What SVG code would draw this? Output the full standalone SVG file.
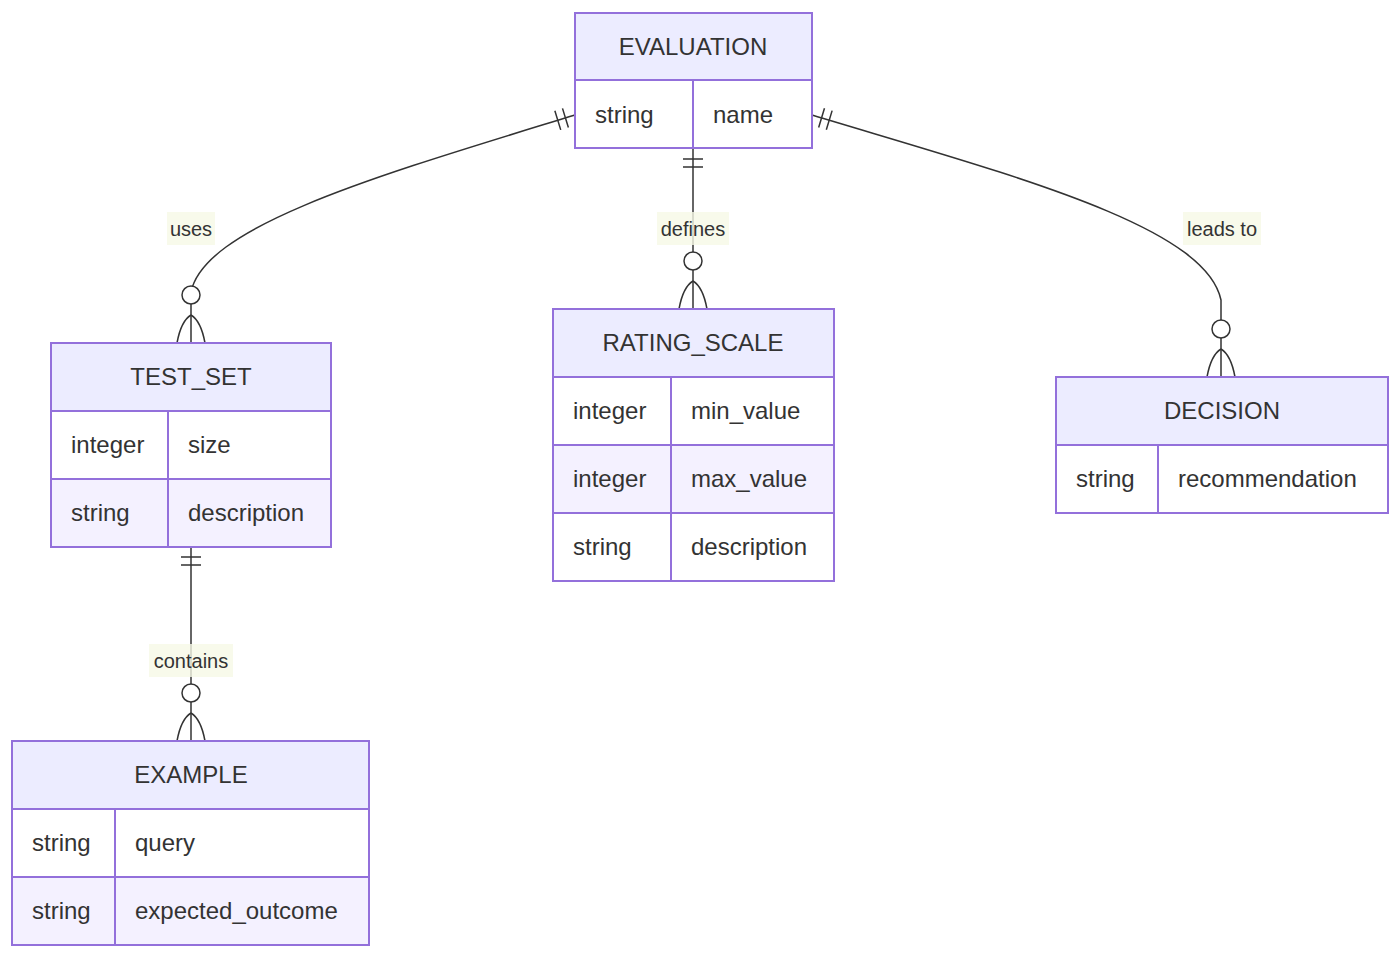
<svg xmlns="http://www.w3.org/2000/svg" width="1400" height="958" viewBox="0 0 1400 958">
<style>
text{font-family:"Liberation Sans",Arial,sans-serif;fill:#333}
.h{fill:#ECECFF;stroke:#9370DB;stroke-width:2}
.w{fill:#FFFFFF;stroke:#9370DB;stroke-width:2}
.l{fill:#F4F1FF;stroke:#9370DB;stroke-width:2}
.dv{stroke:#9370DB;stroke-width:2}
.t{font-size:24px;text-anchor:middle}
.a{font-size:24px}
.c{fill:none;stroke:#333;stroke-width:1.5}
.lb{fill:#F6F9E6;opacity:0.8}
.lt{font-size:20px;text-anchor:middle}
</style>
<defs>
<marker id="one" markerUnits="userSpaceOnUse" orient="auto" refX="0" refY="0" markerWidth="30" markerHeight="30" overflow="visible">
<path d="M10,-10 L10,10 M18,-10 L18,10" fill="none" stroke="#333" stroke-width="1.5"/>
</marker>
<marker id="many" markerUnits="userSpaceOnUse" orient="auto" refX="0" refY="0" markerWidth="60" markerHeight="30" overflow="visible">
<circle cx="-48" cy="0" r="9" fill="#fff" stroke="#333" stroke-width="1.5"/>
<path d="M0,-14 Q-22,-10 -28,0 M0,14 Q-22,10 -28,0" fill="none" stroke="#333" stroke-width="1.5"/>
</marker>
</defs>
<g id="connectors">
<path class="c" d="M575,115 C380,175 205,225 191,292 L191,343" marker-start="url(#one)" marker-end="url(#many)"/>
<path class="c" d="M693,149 L693,309" marker-start="url(#one)" marker-end="url(#many)"/>
<path class="c" d="M812,115 C1010,175 1205,225 1221,300 L1221,377" marker-start="url(#one)" marker-end="url(#many)"/>
<path class="c" d="M191,547 L191,741" marker-start="url(#one)" marker-end="url(#many)"/>
<rect class="lb" x="167" y="212" width="48" height="33"/><text class="lt" x="191" y="236">uses</text>
<rect class="lb" x="657" y="212" width="72" height="33"/><text class="lt" x="693" y="236">defines</text>
<rect class="lb" x="1183" y="212" width="78" height="33"/><text class="lt" x="1222" y="236">leads to</text>
<rect class="lb" x="149" y="644" width="84" height="33"/><text class="lt" x="191" y="668">contains</text>
</g>
<g id="EVALUATION">
<rect class="h" x="575" y="13" width="237" height="67"/>
<rect class="w" x="575" y="80" width="237" height="68"/>
<line class="dv" x1="693" y1="80" x2="693" y2="148"/>
<text class="t" x="693" y="55">EVALUATION</text>
<text class="a" x="595" y="123">string</text><text class="a" x="713" y="123">name</text>
</g>
<g id="TEST_SET">
<rect class="h" x="51" y="343" width="280" height="68"/>
<rect class="w" x="51" y="411" width="280" height="68"/>
<rect class="l" x="51" y="479" width="280" height="68"/>
<line class="dv" x1="168" y1="411" x2="168" y2="547"/>
<text class="t" x="191" y="385">TEST_SET</text>
<text class="a" x="71" y="453">integer</text><text class="a" x="188" y="453">size</text>
<text class="a" x="71" y="521">string</text><text class="a" x="188" y="521">description</text>
</g>
<g id="RATING_SCALE">
<rect class="h" x="553" y="309" width="281" height="68"/>
<rect class="w" x="553" y="377" width="281" height="68"/>
<rect class="l" x="553" y="445" width="281" height="68"/>
<rect class="w" x="553" y="513" width="281" height="68"/>
<line class="dv" x1="671" y1="377" x2="671" y2="581"/>
<text class="t" x="693" y="351">RATING_SCALE</text>
<text class="a" x="573" y="419">integer</text><text class="a" x="691" y="419">min_value</text>
<text class="a" x="573" y="487">integer</text><text class="a" x="691" y="487">max_value</text>
<text class="a" x="573" y="555">string</text><text class="a" x="691" y="555">description</text>
</g>
<g id="DECISION">
<rect class="h" x="1056" y="377" width="332" height="68"/>
<rect class="w" x="1056" y="445" width="332" height="68"/>
<line class="dv" x1="1158" y1="445" x2="1158" y2="513"/>
<text class="t" x="1222" y="419">DECISION</text>
<text class="a" x="1076" y="487">string</text><text class="a" x="1178" y="487">recommendation</text>
</g>
<g id="EXAMPLE">
<rect class="h" x="12" y="741" width="357" height="68"/>
<rect class="w" x="12" y="809" width="357" height="68"/>
<rect class="l" x="12" y="877" width="357" height="68"/>
<line class="dv" x1="115" y1="809" x2="115" y2="945"/>
<text class="t" x="191" y="783">EXAMPLE</text>
<text class="a" x="32" y="851">string</text><text class="a" x="135" y="851">query</text>
<text class="a" x="32" y="919">string</text><text class="a" x="135" y="919">expected_outcome</text>
</g>
</svg>
